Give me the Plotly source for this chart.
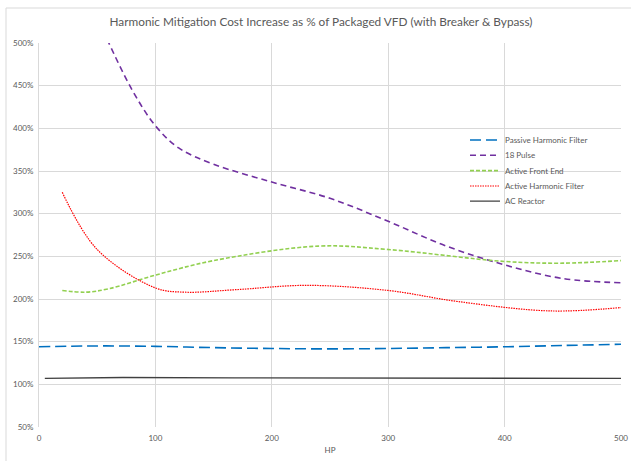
import plotly.graph_objects as go

# Data
hp_passive = [0, 50, 100, 150, 200, 250, 300, 350, 400, 450, 500]
passive = [144, 145, 144.5, 143, 142, 141.5, 142, 143, 144, 145.5, 147]

hp_18p = [55, 60, 80, 100, 120, 150, 200, 250, 300, 350, 400, 450, 500]
pulse18 = [515, 500, 445, 403, 377, 358, 337, 318, 291, 262, 240, 224, 219]

hp_afe = [20, 40, 60, 100, 150, 240, 300, 400, 450, 500]
afe = [210, 208, 212, 228, 245, 262, 258, 244, 242, 245]

hp_ahf = [20, 50, 100, 125, 170, 230, 300, 360, 440, 500]
ahf = [325, 258, 213, 208, 211, 216, 210, 197, 186, 190]

hp_acr = [5, 72, 168, 360, 500]
acr = [107, 108, 107.5, 107, 107]

y_ticks = [50, 100, 150, 200, 250, 300, 350, 400, 450, 500]
y_labels = [f"{v}%" for v in y_ticks]
x_ticks = [0, 100, 200, 300, 400, 500]

FONT = "Lato"
GRAY = "#595959"

series = [
    (hp_passive, passive, "Passive Harmonic Filter", dict(color="#0070C0", width=1.6, dash="11px,5px", shape="spline")),
    (hp_18p, pulse18, "18 Pulse", dict(color="#7030A0", width=1.6, dash="6px,4px", shape="spline")),
    (hp_afe, afe, "Active Front End", dict(color="#92D050", width=1.6, dash="4px,2px", shape="spline")),
    (hp_ahf, ahf, "Active Harmonic Filter", dict(color="#FF0000", width=1.2, dash="1.5px,1px", shape="spline")),
    (hp_acr, acr, "AC Reactor", dict(color="#404040", width=1.3)),
]

# legend rows (pixel y of each entry in the 461px-tall image)
legend_rows_px = [140, 155.3, 170.6, 186, 201.2]

fig = go.Figure()
layout_legends = {}
for i, (xs, ys, name, line) in enumerate(series):
    key = "legend" if i == 0 else f"legend{i + 1}"
    fig.add_trace(go.Scatter(x=xs, y=ys, mode="lines", name=name, line=line, legend=key))
    layout_legends[key] = dict(
        x=(465 - 39) / 582, y=(427 - legend_rows_px[i]) / 384, xanchor="left", yanchor="middle",
        bgcolor="rgba(0,0,0,0)", font=dict(size=8, color=GRAY, family=FONT),
        itemwidth=30, borderwidth=0,
    )

fig.update_layout(
    width=631, height=461,
    margin=dict(l=39, r=10, t=43, b=34, autoexpand=False),
    paper_bgcolor="white", plot_bgcolor="white",
    font=dict(family=FONT, color=GRAY, size=8),
    title=dict(text="Harmonic Mitigation Cost Increase as % of Packaged VFD (with Breaker & Bypass)",
               x=321 / 631, xanchor="center", y=1 - 22 / 461, yanchor="middle",
               font=dict(family=FONT, size=11.8, color=GRAY)),
    showlegend=True,
    **layout_legends,
)
fig.update_xaxes(range=[0, 500], tickvals=x_ticks, showgrid=True, gridcolor="#D9D9D9",
                 zeroline=False, showline=False, ticks="", ticklen=0, ticklabelstandoff=5,
                 tickfont=dict(size=8, color=GRAY),
                 title=dict(text="HP", font=dict(size=8, color=GRAY), standoff=5))
fig.update_yaxes(range=[50, 500], tickvals=y_ticks, ticktext=y_labels, showgrid=True,
                 gridcolor="#D9D9D9", zeroline=False, showline=True, linecolor="#D9D9D9",
                 ticks="", ticklabelstandoff=3, tickfont=dict(size=8, color=GRAY))

# chart-area border (top and left edges visible)
top = (461 - 34 - 8) / 384
left = (6 - 39) / 582
fig.add_shape(type="line", xref="paper", yref="paper", x0=left, x1=1.2, y0=top, y1=top,
              line=dict(color="#D9D9D9", width=1))
fig.add_shape(type="line", xref="paper", yref="paper", x0=left, x1=left, y0=top, y1=-0.2,
              line=dict(color="#D9D9D9", width=1))

fig.write_html("out.html")
